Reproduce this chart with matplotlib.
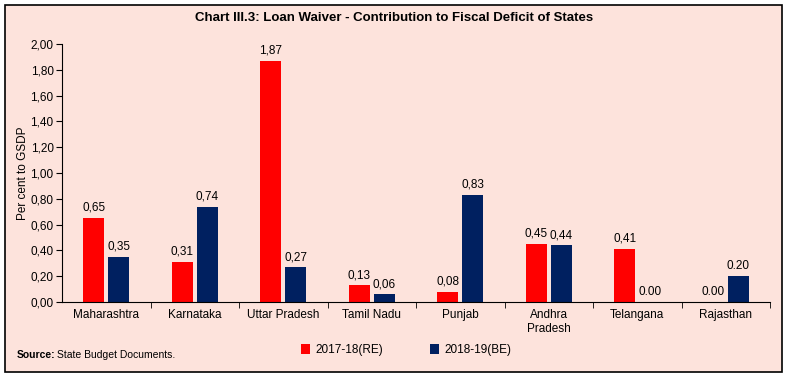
import matplotlib
matplotlib.use("Agg")
import matplotlib.pyplot as plt
from matplotlib.patches import Rectangle
import numpy as np

plt.rcParams['font.family'] = ['Liberation Sans', 'DejaVu Sans']

# data
states = ["Maharashtra", "Karnataka", "Uttar Pradesh", "Tamil Nadu",
          "Punjab", "Andhra\nPradesh", "Telangana", "Rajasthan"]
re_2017 = [0.65, 0.31, 1.87, 0.13, 0.08, 0.45, 0.41, 0.00]
be_2018 = [0.35, 0.74, 0.27, 0.06, 0.83, 0.44, 0.00, 0.20]
re_labels = ["0,65", "0,31", "1,87", "0,13", "0,08", "0,45", "0,41", "0.00"]
be_labels = ["0,35", "0,74", "0,27", "0,06", "0,83", "0,44", "0.00", "0.20"]
series_names = ["2017-18(RE)", "2018-19(BE)"]

bg = "#fde3dc"
red = "#ff0000"
navy = "#002060"

W, H = 789, 377
fig = plt.figure(figsize=(W / 100, H / 100), dpi=100, facecolor="white")
# framed panel behind everything
fig.patches.append(Rectangle((5 / W, 5 / H), 777 / W, 367 / H, transform=fig.transFigure,
                             facecolor=bg, edgecolor="black", linewidth=1.2, zorder=-5))

ax = fig.add_axes([62 / W, 1 - 302 / H, (770 - 62) / W, (302 - 44) / H])
ax.set_facecolor("none")

x = np.arange(len(states))
bw = 0.24
off = 0.14
b1 = ax.bar(x - off, re_2017, bw, color=red, label=series_names[0])
b2 = ax.bar(x + off, be_2018, bw, color=navy, label=series_names[1])

for rect, lab in zip(b1, re_labels):
    ax.annotate(lab, (rect.get_x() + rect.get_width() / 2, rect.get_height()),
                xytext=(0, 3), textcoords="offset points", ha="center", va="bottom",
                fontsize=8.5)
for rect, lab in zip(b2, be_labels):
    ax.annotate(lab, (rect.get_x() + rect.get_width() / 2, rect.get_height()),
                xytext=(0, 3), textcoords="offset points", ha="center", va="bottom",
                fontsize=8.5)

ax.set_xlim(-0.5, len(states) - 0.5)
ax.set_ylim(0, 2.0)
yt = np.arange(0, 2.01, 0.2)
ax.set_yticks(yt)
ax.set_yticklabels([f"{v:.2f}".replace(".", ",") for v in yt], fontsize=8.5)
ax.set_xticks(x)
ax.set_xticklabels(states, fontsize=8.5)
ax.set_xticks(np.arange(0.5, len(states), 1), minor=True)
ax.tick_params(axis="x", which="major", length=0, pad=5)
ax.tick_params(axis="x", which="minor", length=4, direction="out")
ax.tick_params(axis="y", length=4, direction="out", pad=2)
for s in ["top", "right"]:
    ax.spines[s].set_visible(False)
ax.set_ylabel("Per cent to GSDP", fontsize=8.5, labelpad=1)

fig.text(0.5, 1 - 18 / H, "Chart III.3: Loan Waiver - Contribution to Fiscal Deficit of States",
         ha="center", va="center", fontsize=9.5, fontweight="bold")

fig.legend(handles=[b1, b2], labels=series_names, loc="center", ncol=2,
           bbox_to_anchor=(406 / W, 1 - 350 / H), frameon=False, fontsize=8.5,
           handlelength=0.8, handleheight=1.0, handletextpad=0.4, columnspacing=4)

src = fig.text(17 / W, 1 - 355 / H, "Source:", fontsize=7.5, fontweight="bold", va="center")
fig.canvas.draw()
bb = src.get_window_extent(fig.canvas.get_renderer())
fig.text(bb.x1 / W + 1.5 / W, 1 - 355 / H, "State Budget Documents.", fontsize=7.5, va="center")

fig.savefig("out.png", dpi=100, facecolor=fig.get_facecolor())
